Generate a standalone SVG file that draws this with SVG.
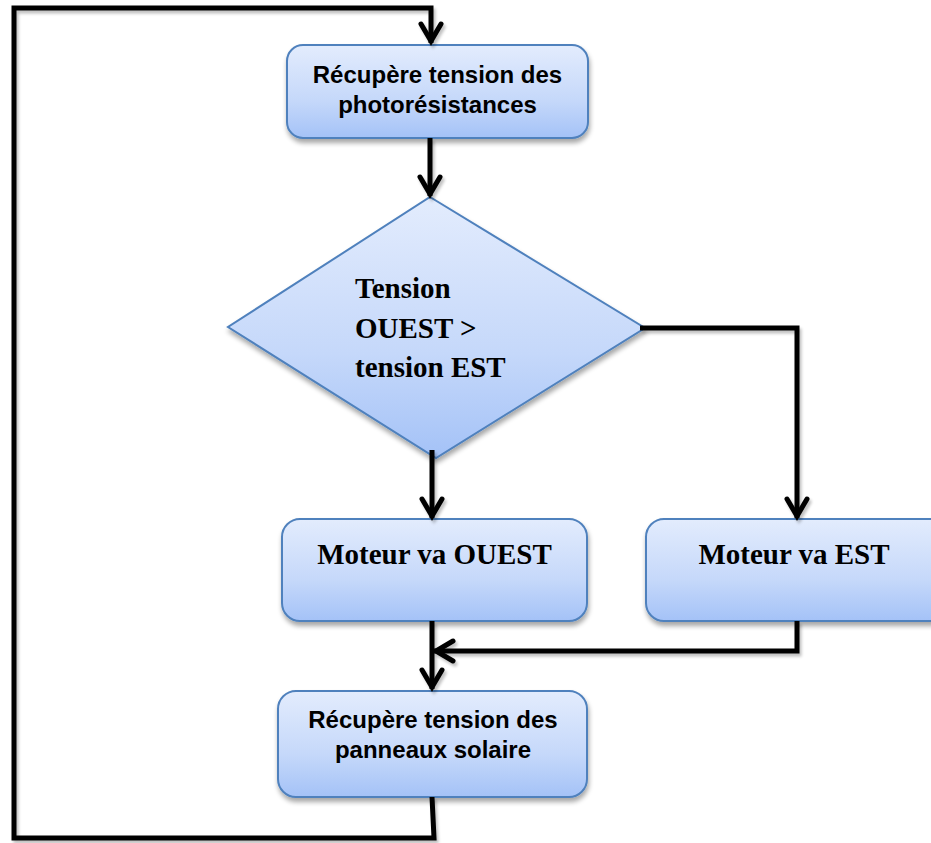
<svg xmlns="http://www.w3.org/2000/svg" width="931" height="843" viewBox="0 0 931 843">
<style>
.box{fill:url(#g);stroke:#4f81bd;stroke-width:2;filter:url(#sh)}
.sans{font-family:"Liberation Sans",Arial,sans-serif;font-weight:bold;font-size:24px;fill:#000;text-anchor:middle}
.serif{font-family:"Liberation Serif","Times New Roman",serif;font-weight:bold;font-size:29px;fill:#000}
.con{fill:none;stroke:#000;stroke-width:5;stroke-linejoin:miter}
</style>
<defs>
<linearGradient id="g" x1="0" y1="0" x2="0" y2="1">
<stop offset="0" stop-color="#e3ecfd"/>
<stop offset="0.6" stop-color="#c5d8fa"/>
<stop offset="1" stop-color="#a4c2f7"/>
</linearGradient>
<filter id="sh" x="-10%" y="-10%" width="130%" height="140%">
<feGaussianBlur in="SourceAlpha" stdDeviation="2.5"/>
<feOffset dx="1" dy="4" result="b"/>
<feComponentTransfer><feFuncA type="linear" slope="0.35"/></feComponentTransfer>
<feMerge><feMergeNode/><feMergeNode in="SourceGraphic"/></feMerge>
</filter>
<filter id="lsh" x="-5%" y="-5%" width="110%" height="110%">
<feGaussianBlur in="SourceAlpha" stdDeviation="1.5"/>
<feOffset dx="2" dy="3" result="b"/>
<feComponentTransfer><feFuncA type="linear" slope="0.25"/></feComponentTransfer>
<feMerge><feMergeNode/><feMergeNode in="SourceGraphic"/></feMerge>
</filter>
<marker id="arr" markerUnits="userSpaceOnUse" viewBox="-26 -15 30 30" markerWidth="30" markerHeight="30" refX="0" refY="0" orient="auto">
<path d="M-19,-10 L-2,0 L-19,10" fill="none" stroke="#000" stroke-width="5" stroke-linecap="round" stroke-linejoin="miter"/>
</marker>
</defs>

<g id="n1">
<rect class="box" x="287" y="45" width="301" height="93" rx="16"/>
<text class="sans" x="437.5" y="83">Récupère tension des</text>
<text class="sans" x="437.5" y="113">photorésistances</text>
</g>

<g id="n2">
<polygon class="box" points="430,197 645,328 436,458 228,327"/>
<text class="serif" x="355" y="298">Tension</text>
<text class="serif" x="355" y="338">OUEST &gt;</text>
<text class="serif" x="355" y="377">tension EST</text>
</g>

<g id="n3">
<rect class="box" x="282" y="519" width="305" height="102" rx="18"/>
<text class="serif" x="434.5" y="564" text-anchor="middle">Moteur va OUEST</text>
</g>

<g id="n4">
<rect class="box" x="646" y="519" width="304" height="102" rx="18"/>
<text class="serif" x="794" y="564" text-anchor="middle">Moteur va EST</text>
</g>

<g id="n5">
<rect class="box" x="278" y="691" width="309" height="106" rx="18"/>
<text class="sans" x="433" y="728">Récupère tension des</text>
<text class="sans" x="433" y="758">panneaux solaire</text>
</g>

<g id="connectors" filter="url(#lsh)">
<path class="con" d="M430,138 L430,196" marker-end="url(#arr)"/>
<path class="con" d="M640,328 L797,328 L797,518" marker-end="url(#arr)"/>
<path class="con" d="M432,450 L432,518" marker-end="url(#arr)"/>
<path class="con" d="M797,621 L797,651 L434,651" marker-end="url(#arr)"/>
<path class="con" d="M432,621 L432,689" marker-end="url(#arr)"/>
<path class="con" d="M432,797 L434,838 L14,838 L14,8 L431,8 L431,43" marker-end="url(#arr)"/>
</g>
</svg>
